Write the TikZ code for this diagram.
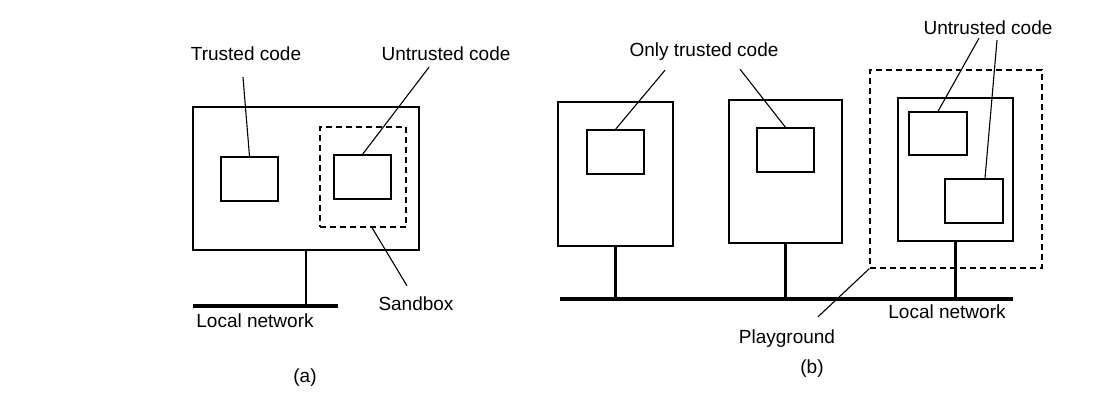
\documentclass[tikz,border=0pt]{standalone}
\usepackage{fontspec}
\setmainfont{Liberation Sans}
\usetikzlibrary{positioning}

\begin{document}
\begin{tikzpicture}[
    x=1pt, y=-1pt,
    host/.style={rectangle, draw, line width=2.4pt, inner sep=0pt},
    code/.style={rectangle, draw, line width=1.3pt, inner sep=0pt, minimum width=57pt, minimum height=44pt},
    fence/.style={rectangle, draw, line width=1.3pt, dash pattern=on 6pt off 4pt, inner sep=0pt},
    lbl/.style={inner sep=1pt, text height=14pt, text depth=4pt, font=\fontsize{19}{22}\selectfont},
    lead/.style={line width=1.1pt},
    stem/.style={line width=2.6pt},
    net/.style={line width=3.5pt},
]
\useasboundingbox (0,0) rectangle (1114,412);

% (a)
\node[host, minimum width=226pt, minimum height=143pt] (hostA) at (306,178.5) {};
\node[code] (trustA) at (249.5,179) {};
\node[fence, minimum width=86pt, minimum height=100pt] (sandA) at (363,177) {};
\node[code] (untrA) at (362.5,177) {};
\coordinate (netAw) at (193,306);
\coordinate (netAe) at (338,306);

\node[lbl] (lblTrust) at (246,55) {Trusted code};
\node[lbl] (lblUntrA) at (446,55) {Untrusted code};
\node[lbl] (lblSand) at (416,305) {Sandbox};
\node[lbl] (lblNetA) at (255,322) {Local network};
\node[lbl] (capA) at (305,377) {(a)};

\draw[net] (netAw) -- (netAe);
\draw[stem] (hostA.south) -- (hostA.south |- netAw);
\draw[lead] ([xshift=-3pt,yshift=-12pt]lblTrust.south) -- (trustA.north);
\draw[lead] ([xshift=-17pt,yshift=-2pt]lblUntrA.south) -- (untrA.north);
\draw[lead] ([xshift=9pt]sandA.south) -- ([xshift=-9pt,yshift=9pt]lblSand.north);

% (b)
\node[host, minimum width=115pt, minimum height=144pt] (hostB1) at (615.5,173.75) {};
\node[code] (codeB1) at (615.5,152) {};
\node[host, minimum width=113pt, minimum height=143pt] (hostB2) at (785.5,171.5) {};
\node[code] (codeB2) at (785.5,150) {};
\node[fence, minimum width=172pt, minimum height=198pt] (play) at (956,169) {};
\node[host, minimum width=115pt, minimum height=143pt] (hostB3) at (955.5,169.5) {};
\node[code, minimum width=58pt, minimum height=43pt] (codeB3a) at (938,133.5) {};
\node[code, minimum width=58pt] (codeB3b) at (974,201) {};
\coordinate (netBw) at (560,299);
\coordinate (netBe) at (1013,299);

\node[lbl] (lblOnly) at (704,52) {Only trusted code};
\node[lbl] (lblUntrB) at (988,30) {Untrusted code};
\node[lbl] (lblNetB) at (947,313) {Local network};
\node[lbl] (lblPlay) at (787,338) {Playground};
\node[lbl] (capB) at (812,368) {(b)};

\draw[net] (netBw) -- (netBe);
\draw[stem] (hostB1.south) -- (hostB1.south |- netBw);
\draw[stem] (hostB2.south) -- (hostB2.south |- netBw);
\draw[stem] (hostB3.south) -- (hostB3.south |- netBw);
\draw[lead] ([xshift=-39pt,yshift=-8pt]lblOnly.south) -- (codeB1.north);
\draw[lead] ([xshift=36pt,yshift=-7pt]lblOnly.south) -- (codeB2.north);
\draw[lead] ([xshift=-9pt,yshift=2pt]lblUntrB.south) -- (codeB3a.north);
\draw[lead] ([xshift=9pt]lblUntrB.south) -- ([xshift=11pt]codeB3b.north);
\draw[lead] (play.south west) -- ([xshift=31pt,yshift=11pt]lblPlay.north);
\end{tikzpicture}
\end{document}
